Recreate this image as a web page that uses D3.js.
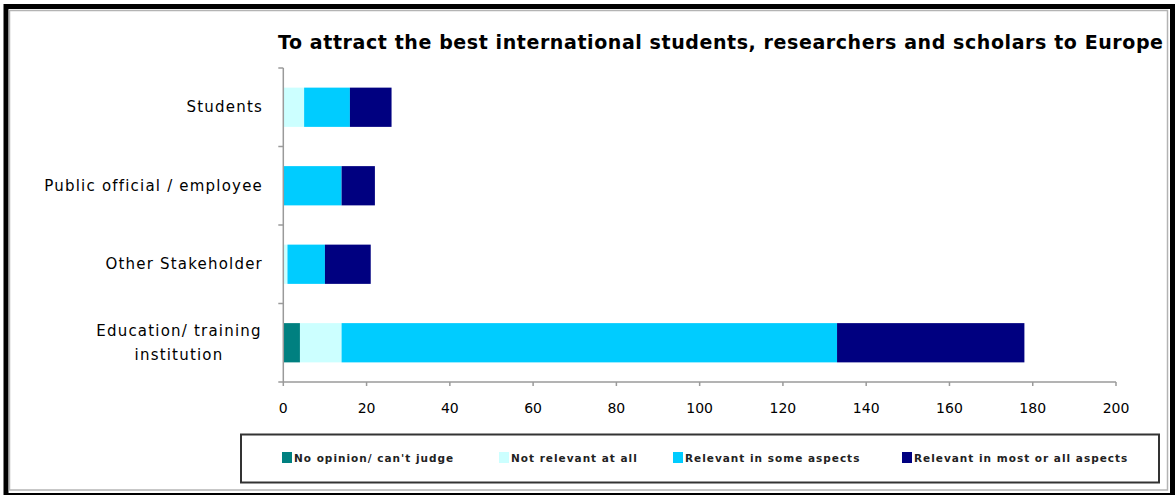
<!DOCTYPE html>
<html>
<head>
<meta charset="utf-8">
<script src="https://cdn.jsdelivr.net/npm/d3@7"></script>
<style>
  body { margin: 0; background: #fff; }
  svg { display: block; }
</style>
</head>
<body>
<div id="chart"></div>
<script>
// data
var categories = ["Students", "Public official / employee", "Other Stakeholder", "Education/ training institution"];
var categoryLines = [["Students"], ["Public official / employee"], ["Other Stakeholder"], ["Education/ training", "institution"]];
var seriesNames = ["No opinion/ can't judge", "Not relevant at all", "Relevant in some aspects", "Relevant in most or all aspects"];
var noOpinion   = [0, 0, 0, 4];
var notRelevant = [5, 0, 1, 10];
var someAspects = [11, 14, 9, 119];
var mostAspects = [10, 8, 11, 45];
var xTicks = [0, 20, 40, 60, 80, 100, 120, 140, 160, 180, 200];
var colors = ["#008080", "#ccffff", "#00ccff", "#000080"];
var title = "To attract the best international students, researchers and scholars to Europe";

var width = 1175, height = 495;
var margin = {left: 283.3, right: 59, top: 68, bottom: 113};

var svg = d3.select("#chart").append("svg")
    .attr("width", width)
    .attr("height", height);

// outer frame
svg.append("rect")
    .attr("x", 6).attr("y", 6.5)
    .attr("width", 1166.5).attr("height", 489)
    .attr("fill", "#fff")
    .attr("stroke", "#000")
    .attr("stroke-width", 5);
svg.append("rect")
    .attr("x", 9.5).attr("y", 10.5)
    .attr("width", 1158).attr("height", 479.5)
    .attr("fill", "none")
    .attr("stroke", "#b4b4b4")
    .attr("stroke-width", 1.5);

svg.append("text")
    .attr("x", 278).attr("y", 49)
    .attr("textLength", 885)
    .attr("lengthAdjust", "spacing")
    .style("font-family", "'DejaVu Sans', sans-serif")
    .style("font-weight", "bold")
    .style("font-size", "19px")
    .attr("fill", "#000")
    .text(title);

var rows = categories.map(function(c, i) {
  return {cat: c, v: [noOpinion[i], notRelevant[i], someAspects[i], mostAspects[i]]};
});

var x = d3.scaleLinear()
    .domain([0, 200])
    .range([margin.left, width - margin.right]);

var y = d3.scaleBand()
    .domain(categories)
    .range([margin.top, height - margin.bottom])
    .paddingInner(0.5)
    .paddingOuter(0.25);

var stack = d3.stack()
    .keys([0, 1, 2, 3])
    .value(function(d, k) { return d.v[k]; });
var layers = stack(rows);

svg.append("g").selectAll("g")
    .data(layers)
    .enter().append("g")
      .attr("fill", function(d, i) { return colors[i]; })
    .selectAll("rect")
    .data(function(d) { return d; })
    .enter().append("rect")
      .attr("x", function(d) { return x(d[0]); })
      .attr("width", function(d) { return x(d[1]) - x(d[0]); })
      .attr("y", function(d) { return y(d.data.cat); })
      .attr("height", y.bandwidth());

// axes
var axisColor = "#9a9a9a";
var y0 = height - margin.bottom;
svg.append("line")
    .attr("x1", x(0)).attr("x2", x(200))
    .attr("y1", y0).attr("y2", y0)
    .attr("stroke", axisColor).attr("stroke-width", 1.5);
svg.append("line")
    .attr("x1", x(0)).attr("x2", x(0))
    .attr("y1", margin.top).attr("y2", y0)
    .attr("stroke", axisColor).attr("stroke-width", 1.5);

svg.append("g").selectAll("line")
    .data(xTicks)
    .enter().append("line")
      .attr("x1", function(d) { return x(d); })
      .attr("x2", function(d) { return x(d); })
      .attr("y1", y0).attr("y2", y0 + 4)
      .attr("stroke", axisColor).attr("stroke-width", 1.5);

svg.append("g").selectAll("text")
    .data(xTicks)
    .enter().append("text")
      .attr("x", function(d) { return x(d); })
      .attr("y", y0 + 31)
      .attr("text-anchor", "middle")
      .style("font-family", "'DejaVu Sans', sans-serif")
      .style("font-size", "14px")
      .text(function(d) { return d; });

// category boundary ticks on the y axis
var bounds = d3.range(categories.length + 1).map(function(i) { return margin.top + i * y.step(); });
svg.append("g").selectAll("line")
    .data(bounds)
    .enter().append("line")
      .attr("x1", x(0) - 5).attr("x2", x(0))
      .attr("y1", function(d) { return d; })
      .attr("y2", function(d) { return d; })
      .attr("stroke", axisColor).attr("stroke-width", 1.5);

var labels = svg.append("g").selectAll("text")
    .data(categories)
    .enter().append("text")
      .attr("text-anchor", "end")
      .style("font-family", "'DejaVu Sans', sans-serif")
      .style("font-size", "15px")
      .style("letter-spacing", "1.2px")
      .attr("fill", "#000");

labels.each(function(c, i) {
  var lines = categoryLines[i];
  var cy = y(c) + y.bandwidth() / 2;
  var t = d3.select(this);
  if (lines.length == 1) {
    t.append("tspan").attr("x", 263).attr("y", cy + 5).text(lines[0]);
  } else {
    t.attr("text-anchor", "middle");
    lines.forEach(function(l, j) {
      t.append("tspan").attr("x", 179).attr("y", cy - 7 + j * 24).text(l);
    });
  }
});

// legend
var legend = svg.append("g");
legend.append("rect")
    .attr("x", 241).attr("y", 434.5)
    .attr("width", 918).attr("height", 48)
    .attr("fill", "#fff")
    .attr("stroke", "#333")
    .attr("stroke-width", 2);

var legendX = [282, 499, 673, 902];
seriesNames.forEach(function(s, i) {
  legend.append("rect")
      .attr("x", legendX[i]).attr("y", 452)
      .attr("width", 10).attr("height", 11)
      .attr("fill", colors[i]);
  legend.append("text")
      .attr("x", legendX[i] + 12).attr("y", 462)
      .style("font-family", "'DejaVu Sans', sans-serif")
      .style("font-size", "10.5px")
      .style("font-weight", "bold")
      .style("letter-spacing", "1px")
      .attr("fill", "#222")
      .text(s);
});
</script>
</body>
</html>
